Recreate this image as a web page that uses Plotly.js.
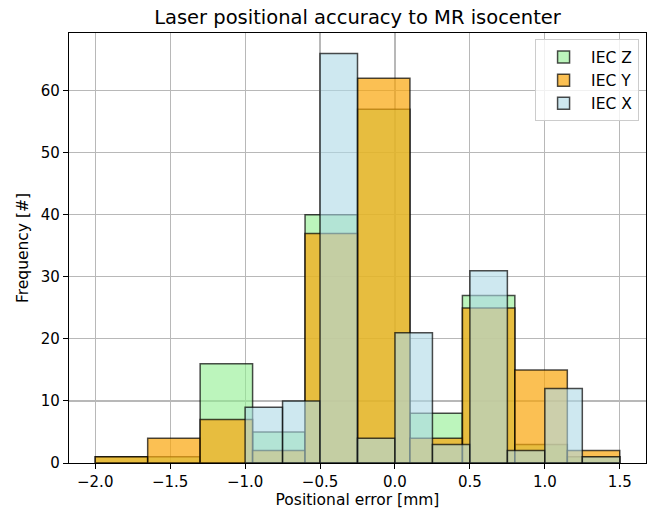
<!DOCTYPE html>
<html>
<head>
<meta charset="utf-8">
<script src="https://cdn.plot.ly/plotly-3.0.1.min.js"></script>
<style>html,body{margin:0;padding:0;background:#fff;}#chart{width:656px;height:514px;}</style>
</head>
<body>
<div id="chart"></div>
<script>
// Bin edges (mm) and counts
var edgesZ = [-2.0, -1.65, -1.3, -0.95, -0.6, -0.25, 0.1, 0.45, 0.8, 1.15, 1.5];
var countsZ = [1, 1, 16, 5, 40, 57, 8, 27, 3, 1];
var edgesY = [-2.0, -1.65, -1.3, -0.95, -0.6, -0.25, 0.1, 0.45, 0.8, 1.15, 1.5];
var countsY = [1, 4, 7, 2, 37, 62, 4, 25, 15, 2];
var edgesX = [-1.0, -0.75, -0.5, -0.25, 0.0, 0.25, 0.5, 0.75, 1.0, 1.25, 1.5];
var countsX = [9, 10, 66, 4, 21, 3, 31, 2, 12, 1];
var seriesNames = ["IEC Z", "IEC Y", "IEC X"];
var xTicks = [-2.0, -1.5, -1.0, -0.5, 0.0, 0.5, 1.0, 1.5];
var xTickText = ["\u22122.0", "\u22121.5", "\u22121.0", "\u22120.5", "0.0", "0.5", "1.0", "1.5"];
var yTicks = [0, 10, 20, 30, 40, 50, 60];

function centers(e){ var c=[]; for(var i=0;i<e.length-1;i++) c.push((e[i]+e[i+1])/2); return c; }
function widths(e){ var w=[]; for(var i=0;i<e.length-1;i++) w.push(e[i+1]-e[i]); return w; }

var fills = ["rgba(144,238,144,0.6)", "rgba(250,165,10,0.7)", "rgba(173,216,230,0.6)"];
var edgeCol = "rgba(0,0,0,0.7)";
var sets = [[edgesZ, countsZ], [edgesY, countsY], [edgesX, countsX]];
var traces = sets.map(function(s, i){
  return {
    type: "bar",
    name: seriesNames[i],
    x: centers(s[0]),
    y: s[1],
    width: widths(s[0]),
    marker: {color: fills[i], line: {color: edgeCol, width: 1.5}},
    hoverinfo: "x+y+name"
  };
});

var fontFam = "DejaVu Sans, sans-serif";
var layout = {
  width: 656, height: 514,
  margin: {l: 69, r: 10, t: 33, b: 51},
  paper_bgcolor: "#fff", plot_bgcolor: "#fff",
  barmode: "overlay", bargap: 0,
  font: {family: fontFam, size: 15.5, color: "#000"},
  title: {text: "Laser positional accuracy to MR isocenter", font: {family: fontFam, size: 19.5, color: "#000"}, x: 0.545, xanchor: "center", y: 0.966, yanchor: "middle"},
  xaxis: {
    range: [-2.175, 1.675], tickvals: xTicks, ticktext: xTickText,
    showgrid: true, gridcolor: "#b8b8b8", gridwidth: 1.1,
    showline: true, linecolor: "#000", linewidth: 1.2, mirror: true,
    ticks: "outside", ticklen: 5, tickcolor: "#000", zeroline: false,
    layer: "above traces", tickfont: {size: 15},
    title: {text: "Positional error [mm]", font: {family: fontFam, size: 15.5}, standoff: 4}
  },
  yaxis: {
    range: [0, 69.3], tickvals: yTicks,
    showgrid: true, gridcolor: "#b8b8b8", gridwidth: 1.1,
    showline: true, linecolor: "#000", linewidth: 1.2, mirror: true,
    ticks: "outside", ticklen: 5, tickcolor: "#000", zeroline: false,
    layer: "above traces", tickfont: {size: 15},
    title: {text: "Frequency [#]", font: {family: fontFam, size: 15.5}, standoff: 8}
  },
  legend: {x: 0.988, xanchor: "right", y: 0.985, yanchor: "top",
    bgcolor: "rgba(255,255,255,0.8)", bordercolor: "#cccccc", borderwidth: 1,
    font: {family: fontFam, size: 15.5}, traceorder: "normal", tracegroupgap: 0,
    itemwidth: 45},
  showlegend: true
};
Plotly.newPlot("chart", traces, layout, {displayModeBar: false, staticPlot: true});
</script>
</body>
</html>
